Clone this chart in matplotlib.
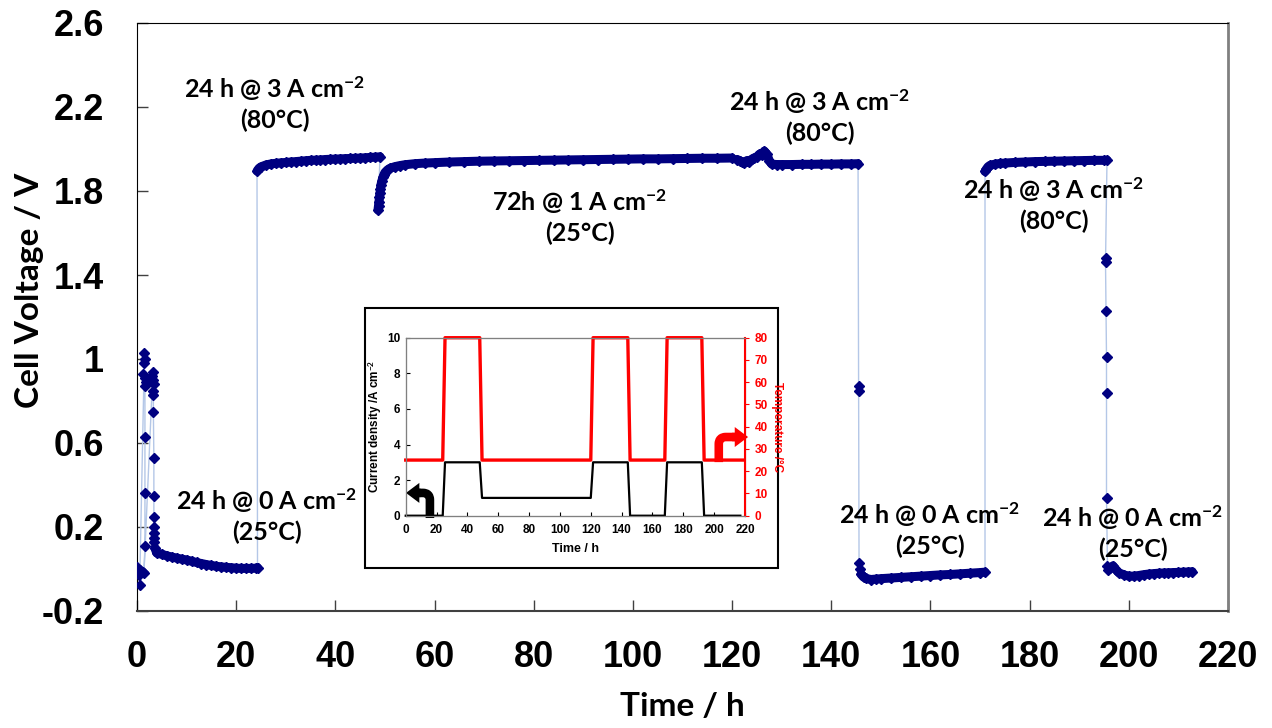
import matplotlib
matplotlib.use("Agg")
import matplotlib.pyplot as plt
from matplotlib.patches import Rectangle, FancyArrowPatch

plt.rcParams['mathtext.fontset'] = 'custom'
plt.rcParams['mathtext.rm'] = 'Lato'
plt.rcParams['mathtext.bf'] = 'Lato:bold'
plt.rcParams['mathtext.it'] = 'Lato:italic'

###### data (time in h, cell voltage in V)
# first few hours, scattered start-up points
start_t = [0.0, 0.4, 0.6, 1.2, 0.6, 1.5, 1.7, 1.5, 1.3, 1.6, 1.8, 1.6, 1.6, 1.6, 1.6, 1.4,
           3.2, 3.0, 3.3, 3.4, 3.2, 3.3, 3.3, 3.4, 3.4, 3.4, 3.4, 3.5, 3.5, 3.5]
start_v = [0.01, -0.03, -0.076, -0.014, -0.005, 1.03, 1.00, 0.98, 0.93, 0.91, 0.89, 0.87, 0.63, 0.36, 0.11, -0.02,
           0.94, 0.92, 0.90, 0.88, 0.85, 0.83, 0.75, 0.53, 0.35, 0.25, 0.20, 0.17, 0.15, 0.13]

# 24 h @ 0 A cm-2, 25 C
ocv1_t = [3.6, 4, 5, 6, 7, 8, 9, 10, 11, 12, 13, 14, 15, 16, 17, 18, 19, 20, 21, 22, 23, 24, 24.3]
ocv1_v = [0.10, 0.076, 0.07, 0.063, 0.057, 0.052, 0.047, 0.043, 0.037, 0.031, 0.026, 0.021, 0.017,
          0.013, 0.010, 0.008, 0.006, 0.004, 0.003, 0.003, 0.003, 0.004, 0.006]

# 24 h @ 3 A cm-2, 80 C
hp1_t = [24.2, 24.6, 25, 26, 27, 28, 29, 30, 31, 32, 33, 34, 35, 36, 37, 38, 39, 40, 41, 42,
         43, 44, 45, 46, 47, 48, 49.0]
hp1_v = [1.895, 1.908, 1.915, 1.924, 1.929, 1.932, 1.934, 1.936, 1.938, 1.94, 1.942, 1.944, 1.946,
         1.947, 1.948, 1.95, 1.951, 1.952, 1.953, 1.954, 1.955, 1.956, 1.957, 1.958, 1.96, 1.961, 1.963]

# 72 h @ 1 A cm-2, 25 C
lp_t = [48.6, 48.7, 48.8, 48.9, 49.0, 49.1, 49.2, 49.4, 49.6, 49.8, 50, 50.5, 51, 52, 53, 54, 56,
        58, 60, 63, 66, 69, 72, 75, 78, 81, 84, 87, 90, 93, 96, 99, 102, 105, 108, 111, 114, 117, 120]
lp_v = [1.71, 1.73, 1.75, 1.77, 1.79, 1.81, 1.83, 1.85, 1.865, 1.878, 1.888, 1.90, 1.908, 1.916,
        1.921, 1.925, 1.93, 1.933, 1.935, 1.938, 1.94, 1.942, 1.943, 1.944, 1.945, 1.946, 1.947,
        1.948, 1.949, 1.95, 1.951, 1.952, 1.953, 1.953, 1.954, 1.955, 1.956, 1.956, 1.957]

# 24 h @ 3 A cm-2, 80 C
hp2_t = [121, 121.5, 122, 122.5, 123, 123.5, 124, 124.5, 125, 125.5, 126, 126.5, 127, 127.5, 128,
         129, 130, 132, 134, 136, 138, 140, 142, 144, 145.4]
hp2_v = [1.95, 1.945, 1.938, 1.935, 1.945, 1.94, 1.952, 1.958, 1.962, 1.975, 1.97, 1.99, 1.975,
         1.945, 1.928, 1.926, 1.926, 1.926, 1.927, 1.927, 1.928, 1.928, 1.929, 1.929, 1.93]

drop1_t = [145.5, 145.5, 145.6, 145.7]
drop1_v = [0.87, 0.85, 0.028, 0.0]

# 24 h @ 0 A cm-2, 25 C
ocv2_t = [146, 146.5, 147, 148, 149, 150, 152, 154, 156, 158, 160, 162, 164, 166, 168, 170, 171]
ocv2_v = [-0.025, -0.038, -0.045, -0.05, -0.048, -0.046, -0.043, -0.04, -0.037, -0.034, -0.031,
          -0.028, -0.026, -0.023, -0.02, -0.017, -0.015]

# 24 h @ 3 A cm-2, 80 C
hp3_t = [171, 171.3, 171.6, 172, 173, 174, 175, 177, 179, 181, 183, 185, 187, 189, 191, 193, 195, 195.6]
hp3_v = [1.893, 1.905, 1.915, 1.922, 1.928, 1.931, 1.933, 1.936, 1.938, 1.94, 1.941, 1.942, 1.943,
         1.944, 1.945, 1.946, 1.946, 1.947]

drop2_t = [195.3, 195.3, 195.4, 195.5, 195.5, 195.5, 195.7, 195.8]
drop2_v = [1.48, 1.46, 1.23, 1.01, 0.84, 0.34, 0.012, -0.003]

# 24 h @ 0 A cm-2, 25 C
ocv3_t = [196.3, 196.8, 197.3, 198, 199, 200, 201, 202, 203, 204, 205, 206, 207, 208, 209, 210,
          211, 212, 212.8]
ocv3_v = [0.005, 0.015, 0.0, -0.018, -0.028, -0.034, -0.034, -0.031, -0.027, -0.024, -0.022, -0.02,
          -0.019, -0.018, -0.017, -0.016, -0.015, -0.014, -0.013]

# inset: test protocol
prof_t = [0, 24, 25.5, 48, 49.5, 120, 121.5, 144, 145.5, 168, 169.5, 192, 193.5, 217]
prof_j = [0, 0, 3, 3, 1, 1, 3, 3, 0, 0, 3, 3, 0, 0]
temp_t = [0, 24, 25.5, 48, 49.5, 120, 121.5, 144, 145.5, 168, 169.5, 192, 193.5, 219]
temp_c = [25, 25, 80, 80, 25, 25, 80, 80, 25, 25, 80, 80, 25, 25]

xticks = list(range(0, 221, 20))
yticks = [-0.2, 0.2, 0.6, 1.0, 1.4, 1.8, 2.2, 2.6]
ytick_labels = ['-0.2', '0.2', '0.6', '1', '1.4', '1.8', '2.2', '2.6']

notes = [
    (27.8, 2.219, "24 h @ 3 A cm$^{\\mathbf{-2}}$\n(80°C)"),
    (89.3, 1.681, "72h @ 1 A cm$^{\\mathbf{-2}}$\n(25°C)"),
    (137.7, 2.155, "24 h @ 3 A cm$^{\\mathbf{-2}}$\n(80°C)"),
    (184.9, 1.736, "24 h @ 3 A cm$^{\\mathbf{-2}}$\n(80°C)"),
    (26.2, 0.257, "24 h @ 0 A cm$^{\\mathbf{-2}}$\n(25°C)"),
    (159.9, 0.190, "24 h @ 0 A cm$^{\\mathbf{-2}}$\n(25°C)"),
    (200.8, 0.176, "24 h @ 0 A cm$^{\\mathbf{-2}}$\n(25°C)"),
]

NAVY = '#000080'
LIGHT = '#B4C7E7'
W, H = 1272, 728

fig = plt.figure(figsize=(12.72, 7.28), dpi=100)
ax = fig.add_axes([137 / W, 1 - 611 / H, (1228 - 137) / W, (611 - 23) / H])

segments = [(start_t, start_v, False), (ocv1_t, ocv1_v, True), (hp1_t, hp1_v, True),
            (lp_t, lp_v, True), (hp2_t, hp2_v, True), (drop1_t, drop1_v, False),
            (ocv2_t, ocv2_v, True), (hp3_t, hp3_v, True), (drop2_t, drop2_v, False),
            (ocv3_t, ocv3_v, True)]

all_t = []
all_v = []
for t, v, band in segments:
    all_t += t
    all_v += v
ax.plot(all_t, all_v, color=LIGHT, lw=1, zorder=2)
for t, v, band in segments:
    if band:
        ax.plot(t, v, color=NAVY, lw=6.5, solid_capstyle='round', solid_joinstyle='round', zorder=3)
    ax.plot(t, v, ls='none', marker='D', ms=5.2, color=NAVY, mec=NAVY, zorder=4)

ax.set_xlim(0, 220)
ax.set_ylim(-0.2, 2.6)
ax.set_xticks(xticks)
ax.set_yticks(yticks)
ax.set_yticklabels(ytick_labels)
ax.tick_params(direction='in', length=8, width=1, labelsize=26, color='#404040')
ax.tick_params(axis='y', pad=24)
ax.tick_params(axis='x', pad=21)
for lab in ax.get_xticklabels() + ax.get_yticklabels():
    lab.set_fontfamily('Liberation Sans')
    lab.set_fontweight('bold')
ax.spines['left'].set_color('black')
ax.spines['top'].set_color('black')
ax.spines['right'].set_color('#808080')
ax.spines['right'].set_linewidth(2)
ax.spines['bottom'].set_color('#404040')
ax.spines['bottom'].set_linewidth(1.5)

fig.text(682 / W, 1 - 706 / H, "Time / h", family='Lato', weight='bold', fontsize=24,
         ha='center', va='center')
fig.text(30 / W, 1 - 290 / H, "Cell Voltage / V", family='Lato', weight='bold', fontsize=24,
         ha='center', va='center', rotation=90)

for x, y, s in notes:
    ax.text(x, y, s, family='Lato', weight='bold', fontsize=18, ha='center', va='center',
            multialignment='center', linespacing=1.3, zorder=5)

# inset
frame = Rectangle((365 / W, 1 - 568 / H), 413 / W, 260 / H, transform=fig.transFigure,
                  facecolor='white', edgecolor='black', lw=1.5, zorder=5)
fig.add_artist(frame)

axi = fig.add_axes([405.7 / W, 1 - 515.7 / H, (745 - 405.7) / W, (515.7 - 337.7) / H], zorder=6)
axt = axi.twinx()
axt.set_zorder(7)
axt.plot(temp_t, temp_c, color='red', lw=2.4, clip_on=False)
axi.plot(prof_t, prof_j, color='black', lw=1.6, clip_on=False)
axi.set_xlim(0, 220)
axi.set_ylim(0, 10)
axt.set_ylim(0, 80)
axi.set_xticks(xticks)
axi.set_yticks([0, 2, 4, 6, 8, 10])
axt.set_yticks(list(range(0, 81, 10)))
axi.tick_params(direction='in', length=3, labelsize=8.5)
axi.tick_params(axis='x', pad=6)
axi.tick_params(axis='y', pad=4)
axt.tick_params(direction='out', length=3, labelsize=8.5, colors='red', pad=4)
for lab in axi.get_xticklabels() + axi.get_yticklabels() + axt.get_yticklabels():
    lab.set_fontfamily('Liberation Sans')
    lab.set_fontweight('bold')
for sp in ['left', 'top', 'bottom']:
    axt.spines[sp].set_color('#808080')
axt.spines['right'].set_color('red')
axt.spines['right'].set_linewidth(1.5)
axi.set_xlabel("Time / h", family='Liberation Sans', weight='bold', fontsize=9, labelpad=5)
axi.set_ylabel("Current density /A cm$^{\\mathbf{-2}}$", family='Liberation Sans', weight='bold',
               fontsize=8.5, labelpad=2)
axt.set_ylabel("Temperature /°C", family='Liberation Sans', weight='bold', fontsize=8.5,
               color='red', rotation=270, labelpad=11)


def bent_arrow(axes, base, corner_y, head_base_x, tip_x, color):
    # thick L-shaped shaft with a rounded corner, then a filled head
    shaft = FancyArrowPatch(base, (head_base_x, corner_y),
                            connectionstyle="angle,angleA=90,angleB=0,rad=7",
                            arrowstyle='-', lw=6.2, color=color, shrinkA=0, shrinkB=0,
                            capstyle='butt', clip_on=False)
    head = FancyArrowPatch((head_base_x + (head_base_x - tip_x) * 0.3, corner_y), (tip_x, corner_y),
                           arrowstyle="simple,head_length=0.6,head_width=0.9,tail_width=0.38",
                           mutation_scale=16, lw=0, color=color, shrinkA=0, shrinkB=0,
                           clip_on=False)
    axes.add_patch(shaft)
    axes.add_patch(head)


bent_arrow(axi, (15.7, -0.13), 1.28, 7.5, 0.2, 'black')
bent_arrow(axi, (203.0, 3.01), 4.42, 214.0, 222.0, 'red')

fig.savefig("out.png", dpi=100)
